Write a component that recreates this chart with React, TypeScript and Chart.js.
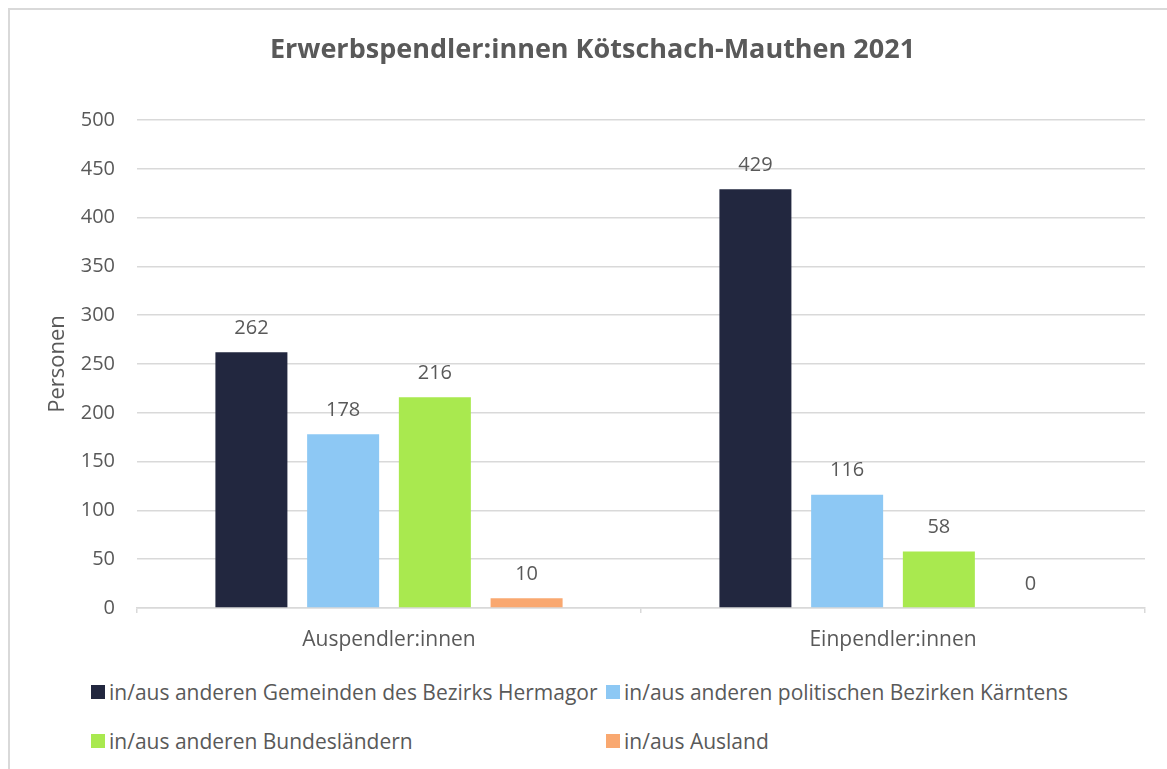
import React, { useEffect, useRef } from "react";
import { Chart, registerables } from "chart.js";

Chart.register(...registerables);

const TITLE = "Erwerbspendler:innen Kötschach-Mauthen 2021";
const Y_TITLE = "Personen";
const CATEGORIES = ["Auspendler:innen", "Einpendler:innen"];
const SERIES_NAMES = [
  "in/aus anderen Gemeinden des Bezirks Hermagor",
  "in/aus anderen politischen Bezirken Kärntens",
  "in/aus anderen Bundesländern",
  "in/aus Ausland",
];
const HERMAGOR = [262, 429];
const KAERNTEN = [178, 116];
const BUNDESLAENDER = [216, 58];
const AUSLAND = [10, 0];
const SERIES_VALUES = [HERMAGOR, KAERNTEN, BUNDESLAENDER, AUSLAND];
const COLORS = ["#22273f", "#8dc8f4", "#a9e94f", "#f9a870"];

const FONT = "'Open Sans', 'Noto Sans', sans-serif";
const TEXT = "#595959";

const valueLabels = {
  id: "valueLabels",
  afterDatasetsDraw(chart: any) {
    const ctx = chart.ctx;
    ctx.save();
    ctx.font = `20px ${FONT}`;
    ctx.fillStyle = TEXT;
    ctx.textAlign = "center";
    ctx.textBaseline = "middle";
    chart.data.datasets.forEach((ds: any, i: number) => {
      const meta = chart.getDatasetMeta(i);
      meta.data.forEach((bar: any, j: number) => {
        ctx.fillText(String(ds.data[j]), bar.x, bar.y - 24);
      });
    });
    ctx.restore();
  },
};

export default function App() {
  const ref = useRef<HTMLCanvasElement>(null);
  useEffect(() => {
    if (!ref.current) return;
    const chart = new Chart(ref.current, {
      type: "bar",
      data: {
        labels: CATEGORIES,
        datasets: SERIES_NAMES.map((name, i) => ({
          label: name,
          data: SERIES_VALUES[i],
          backgroundColor: COLORS[i],
          borderWidth: 0,
          categoryPercentage: 0.728,
          barPercentage: 0.785,
        })),
      },
      options: {
        responsive: false,
        animation: false,
        layout: { padding: { left: 30, right: 22, top: 0, bottom: 0 } },
        plugins: {
          legend: { display: false },
          tooltip: { enabled: false },
          title: {
            display: true,
            text: TITLE,
            color: TEXT,
            font: { family: FONT, size: 27, weight: "bold" },
            padding: { top: 23.8, bottom: 53.8 },
          },
        },
        scales: {
          x: {
            offset: true,
            grid: {
              display: true,
              offset: true,
              drawOnChartArea: false,
              drawTicks: true,
              tickLength: 5,
              color: "#d9d9d9",
              lineWidth: 1.5,
            },
            border: { display: true, color: "#d9d9d9", width: 1.5 },
            ticks: { color: TEXT, font: { family: FONT, size: 21 }, padding: 14 },
            afterFit: (s: any) => {
              s.height = 67;
            },
          },
          y: {
            min: 0,
            max: 500,
            ticks: { stepSize: 50, color: TEXT, font: { family: FONT, size: 20 }, padding: 22 },
            grid: { color: "#d9d9d9", lineWidth: 1.5, drawTicks: false },
            border: { display: false },
            title: {
              display: true,
              text: Y_TITLE,
              color: TEXT,
              font: { family: FONT, size: 22 },
              padding: { top: 5, bottom: 0 },
            },
            afterFit: (s: any) => {
              s.width = 97;
            },
          },
        },
      },
      plugins: [valueLabels],
    });
    return () => chart.destroy();
  }, []);

  const legendItem = (i: number, left: number, top: number) => (
    <div
      key={i}
      style={{
        position: "absolute",
        left,
        top,
        display: "flex",
        alignItems: "center",
        fontFamily: FONT,
        fontSize: 21,
        color: TEXT,
        whiteSpace: "nowrap",
        lineHeight: "28px",
      }}
    >
      <span
        style={{
          display: "inline-block",
          width: 14,
          height: 14,
          background: COLORS[i],
          marginRight: 4,
        }}
      />
      {SERIES_NAMES[i]}
    </div>
  );

  return (
    <div
      style={{
        position: "fixed",
        left: 8,
        top: 8,
        width: 1159,
        height: 761,
        borderTop: "2px solid #d9d9d9",
        borderLeft: "2px solid #d9d9d9",
        background: "#fff",
        overflow: "hidden",
      }}
    >
      <canvas
        ref={ref}
        width={1157}
        height={665}
        style={{ position: "absolute", left: 0, top: 0, width: 1157, height: 665 }}
      />
      {legendItem(0, 81, 668)}
      {legendItem(1, 596, 668)}
      {legendItem(2, 81, 717)}
      {legendItem(3, 596, 717)}
    </div>
  );
}
